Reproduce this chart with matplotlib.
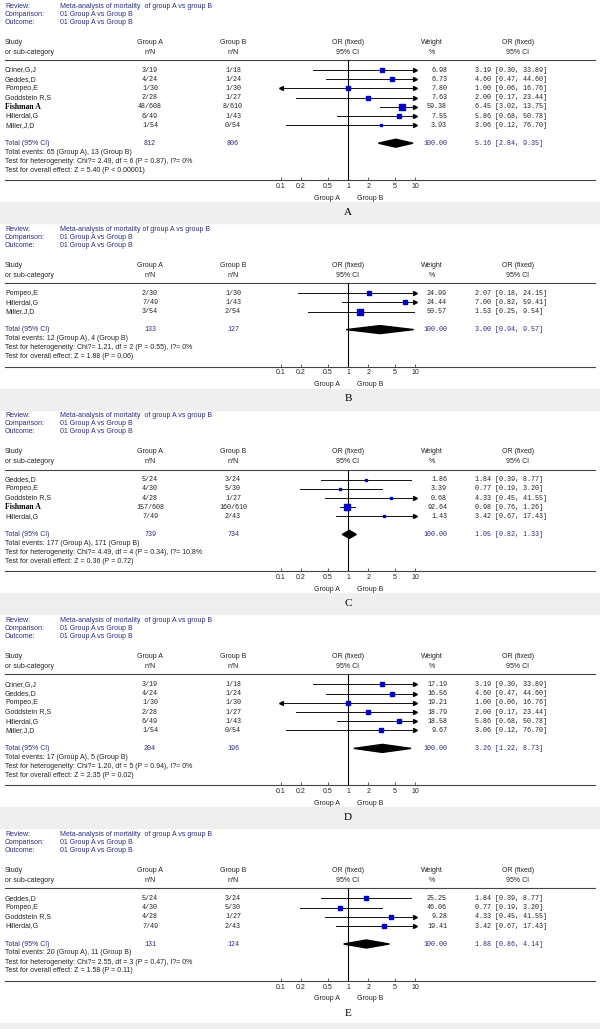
import matplotlib
matplotlib.use("Agg")
import matplotlib.pyplot as plt
from matplotlib.patches import Rectangle


# -----------------------------
# Data (one block per panel)
# -----------------------------

panel_labels = ["A", "B", "C", "D", "E"]

review_titles = [
    "Meta-analysis of mortality  of group A vs group B",
    "Meta-analysis of mortality of group A vs group B",
    "Meta-analysis of mortality  of group A vs group B",
    "Meta-analysis of mortality  of group A vs group B",
    "Meta-analysis of mortality  of group A vs group B",
]

# Panel A
a_study = ["Criner,G,J", "Geddes,D", "Pompeo,E", "Goddstein R,S", "Fishman A", "Hillerdal,G", "Miller,J,D"]
a_grp_a = ["3/19", "4/24", "1/30", "2/28", "48/608", "6/49", "1/54"]
a_grp_b = ["1/18", "1/24", "1/30", "1/27", "8/610", "1/43", "0/54"]
a_weight = [6.98, 6.73, 7.80, 7.63, 59.38, 7.55, 3.93]
a_or = [3.19, 4.60, 1.00, 2.00, 6.45, 5.86, 3.06]
a_lo = [0.30, 0.47, 0.06, 0.17, 3.02, 0.68, 0.12]
a_hi = [33.89, 44.60, 16.76, 23.44, 13.75, 50.78, 76.70]
a_total = ["812", "806", 5.16, 2.84, 9.35]
a_notes = ["Total events: 65 (Group A), 13 (Group B)",
           "Test for heterogeneity: Chi?= 2.49, df = 6 (P = 0.87), I?= 0%",
           "Test for overall effect: Z = 5.40 (P < 0.00001)"]

# Panel B
b_study = ["Pompeo,E", "Hillerdal,G", "Miller,J,D"]
b_grp_a = ["2/30", "7/49", "3/54"]
b_grp_b = ["1/30", "1/43", "2/54"]
b_weight = [24.99, 24.44, 50.57]
b_or = [2.07, 7.00, 1.53]
b_lo = [0.18, 0.82, 0.25]
b_hi = [24.15, 59.41, 9.54]
b_total = ["133", "127", 3.00, 0.94, 9.57]
b_notes = ["Total events: 12 (Group A), 4 (Group B)",
           "Test for heterogeneity: Chi?= 1.21, df = 2 (P = 0.55), I?= 0%",
           "Test for overall effect: Z = 1.88 (P = 0.06)"]

# Panel C
c_study = ["Geddes,D", "Pompeo,E", "Goddstein R,S", "Fishman A", "Hillerdal,G"]
c_grp_a = ["5/24", "4/30", "4/28", "157/608", "7/49"]
c_grp_b = ["3/24", "5/30", "1/27", "160/610", "2/43"]
c_weight = [1.86, 3.39, 0.68, 92.64, 1.43]
c_or = [1.84, 0.77, 4.33, 0.98, 3.42]
c_lo = [0.39, 0.19, 0.45, 0.76, 0.67]
c_hi = [8.77, 3.20, 41.55, 1.26, 17.43]
c_total = ["739", "734", 1.05, 0.82, 1.33]
c_notes = ["Total events: 177 (Group A), 171 (Group B)",
           "Test for heterogeneity: Chi?= 4.49, df = 4 (P = 0.34), I?= 10.8%",
           "Test for overall effect: Z = 0.36 (P = 0.72)"]

# Panel D
d_study = ["Criner,G,J", "Geddes,D", "Pompeo,E", "Goddstein R,S", "Hillerdal,G", "Miller,J,D"]
d_grp_a = ["3/19", "4/24", "1/30", "2/28", "6/49", "1/54"]
d_grp_b = ["1/18", "1/24", "1/30", "1/27", "1/43", "0/54"]
d_weight = [17.19, 16.56, 19.21, 18.79, 18.58, 9.67]
d_or = [3.19, 4.60, 1.00, 2.00, 5.86, 3.06]
d_lo = [0.30, 0.47, 0.06, 0.17, 0.68, 0.12]
d_hi = [33.89, 44.60, 16.76, 23.44, 50.78, 76.70]
d_total = ["204", "196", 3.26, 1.22, 8.73]
d_notes = ["Total events: 17 (Group A), 5 (Group B)",
           "Test for heterogeneity: Chi?= 1.20, df = 5 (P = 0.94), I?= 0%",
           "Test for overall effect: Z = 2.35 (P = 0.02)"]

# Panel E
e_study = ["Geddes,D", "Pompeo,E", "Goddstein R,S", "Hillerdal,G"]
e_grp_a = ["5/24", "4/30", "4/28", "7/49"]
e_grp_b = ["3/24", "5/30", "1/27", "2/43"]
e_weight = [25.25, 46.06, 9.28, 19.41]
e_or = [1.84, 0.77, 4.33, 3.42]
e_lo = [0.39, 0.19, 0.45, 0.67]
e_hi = [8.77, 3.20, 41.55, 17.43]
e_total = ["131", "124", 1.88, 0.86, 4.14]
e_notes = ["Total events: 20 (Group A), 11 (Group B)",
           "Test for heterogeneity: Chi?= 2.55, df = 3 (P = 0.47), I?= 0%",
           "Test for overall effect: Z = 1.58 (P = 0.11)"]

panels = [
    (a_study, a_grp_a, a_grp_b, a_weight, a_or, a_lo, a_hi, a_total, a_notes),
    (b_study, b_grp_a, b_grp_b, b_weight, b_or, b_lo, b_hi, b_total, b_notes),
    (c_study, c_grp_a, c_grp_b, c_weight, c_or, c_lo, c_hi, c_total, c_notes),
    (d_study, d_grp_a, d_grp_b, d_weight, d_or, d_lo, d_hi, d_total, d_notes),
    (e_study, e_grp_a, e_grp_b, e_weight, e_or, e_lo, e_hi, e_total, e_notes),
]

ticks = [0.1, 0.2, 0.5, 1, 2, 5, 10]
tick_labels = ["0.1", "0.2", "0.5", "1", "2", "5", "10"]


# -----------------------------
# Style
# -----------------------------

W, H = 600, 1029
navy = "#2b2b7d"
ink = "#222222"
sq_blue = "#0000c8"
band = "#efefef"
sans = "Liberation Sans"
mono = "Liberation Mono"
serif = "Liberation Serif"
fs = 5.0
fm = 4.9

X_LO, X_HI = 281, 415   # pixel span of 0.1 .. 10
ROW = 9.2


fig = plt.figure(figsize=(W / 100, H / 100), dpi=100)
fig.patch.set_facecolor("white")

ov = fig.add_axes([0, 0, 1, 1])
ov.set_xlim(0, W)
ov.set_ylim(H, 0)
ov.axis("off")


def txt(x, y, s, **kw):
    kw.setdefault("fontsize", fs)
    kw.setdefault("family", sans)
    kw.setdefault("color", ink)
    kw.setdefault("va", "center")
    ov.text(x, y, s, **kw)


top = 0
for k, (study, ga, gb, weight, orv, lo, hi, total, notes) in enumerate(panels):
    n = len(study)
    hline = top + 60
    rows = [top + 70 + ROW * i for i in range(n)]
    tot_y = rows[-1] + 18
    axis_y = tot_y + 37

    # header
    for j, (lab, val) in enumerate([("Review:", review_titles[k]),
                                    ("Comparison:", "01 Group A vs Group B"),
                                    ("Outcome:", "01 Group A vs Group B")]):
        txt(5, top + 6 + 8 * j, lab, color=navy)
        txt(60, top + 6 + 8 * j, val, color=navy)

    txt(5, top + 42, "Study")
    txt(5, top + 52, "or sub-category")
    for cx, l1, l2 in [(150, "Group A", "n/N"), (233, "Group B", "n/N"),
                       (348, "OR (fixed)", "95% CI"), (432, "Weight", "%"),
                       (518, "OR (fixed)", "95% CI")]:
        txt(cx, top + 42, l1, ha="center")
        txt(cx, top + 52, l2, ha="center")

    ov.plot([5, 595], [hline, hline], color="#444444", lw=0.8)
    ov.plot([5, 595], [axis_y, axis_y], color="#444444", lw=0.8)

    # rows of text
    for i in range(n):
        y = rows[i]
        if study[i] == "Fishman A":
            txt(5, y, study[i], family=serif, fontweight="bold", fontsize=5.6, color="black")
        else:
            txt(5, y, study[i])
        txt(150, y, ga[i], ha="center", family=mono, fontsize=fm)
        txt(233, y, gb[i], ha="center", family=mono, fontsize=fm)
        txt(447, y, f"{weight[i]:.2f}", ha="right", family=mono, fontsize=fm)
        txt(475, y, f"{orv[i]:.2f} [{lo[i]:.2f}, {hi[i]:.2f}]", family=mono, fontsize=fm)

    txt(5, tot_y, "Total (95% CI)", color=navy)
    txt(150, tot_y, total[0], ha="center", family=mono, fontsize=fm, color=navy)
    txt(233, tot_y, total[1], ha="center", family=mono, fontsize=fm, color=navy)
    txt(447, tot_y, "100.00", ha="right", family=mono, fontsize=fm, color=navy)
    txt(475, tot_y, f"{total[2]:.2f} [{total[3]:.2f}, {total[4]:.2f}]",
        family=mono, fontsize=fm, color=navy)
    for j, note in enumerate(notes):
        txt(5, tot_y + 9 + 9 * j, note)

    txt(327, axis_y + 18, "Group A", ha="center")
    txt(370, axis_y + 18, "Group B", ha="center")

    # band and label
    txt(348, axis_y + 32, panel_labels[k], ha="center", family=serif, fontsize=8, color="black")
    if k < len(panels) - 1:
        ov.add_patch(Rectangle((0, axis_y + 22), W, 21, color=band, zorder=0))
        next_top = axis_y + 43
    else:
        ov.add_patch(Rectangle((0, axis_y + 42), W, H - axis_y - 42, color=band, zorder=0))
        next_top = H

    # forest plot axes, y in page pixels
    ax = fig.add_axes([X_LO / W, 1 - axis_y / H, (X_HI - X_LO) / W, (axis_y - hline) / H])
    ax.patch.set_alpha(0)
    ax.set_xscale("log")
    ax.set_xlim(0.1, 10)
    ax.set_ylim(axis_y, hline)
    for s in ax.spines.values():
        s.set_visible(False)
    ax.set_xticks(ticks)
    ax.set_xticklabels(tick_labels)
    ax.minorticks_off()
    ax.set_yticks([])
    ax.tick_params(axis="x", direction="in", length=2, width=0.6, pad=2,
                   labelsize=5, labelcolor=ink, colors="#444444")
    for t in ax.get_xticklabels():
        t.set_family(sans)
        t.set_color(ink)

    ax.axvline(1, color="black", lw=0.8)

    xmin, xmax = ax.get_xlim()
    for i in range(n):
        y = rows[i]
        l = max(lo[i], xmin)
        h = min(hi[i], xmax)
        ax.plot([l, h], [y, y], color="#111111", lw=0.7, clip_on=False)
        if hi[i] > xmax:
            ax.plot(xmax, y, marker=">", ms=2.8, color="black", clip_on=False)
        if lo[i] < xmin:
            ax.plot(xmin, y, marker="<", ms=2.8, color="black", clip_on=False)
        side = 2.8 + 0.045 * weight[i]
        ax.plot(orv[i], y, marker="s", ms=side * 0.72, color=sq_blue, mec=sq_blue,
                clip_on=False, zorder=4)

    ax.fill([total[3], total[2], total[4], total[2]],
            [tot_y, tot_y - 4, tot_y, tot_y + 4], color="black", zorder=4)

    top = next_top

fig.savefig("out.png", dpi=100, facecolor=fig.get_facecolor())
